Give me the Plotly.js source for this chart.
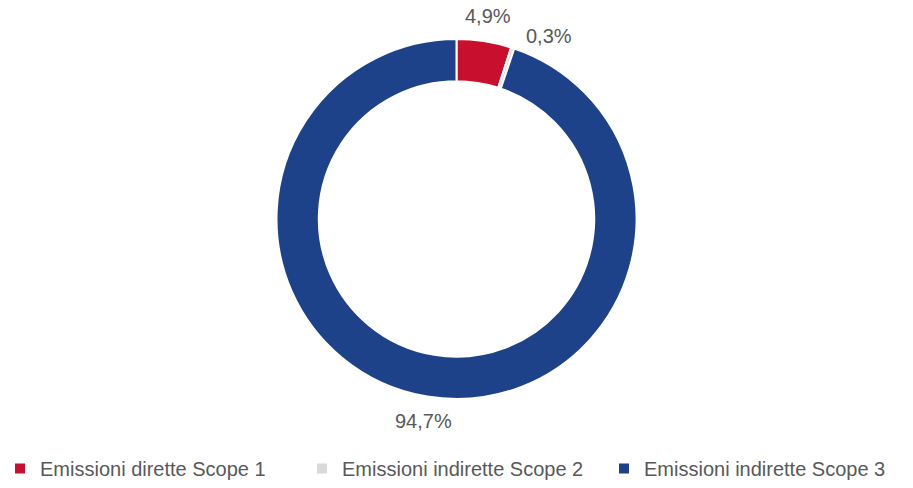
<!DOCTYPE html>
<html>
<head>
<meta charset="utf-8">
<script src="https://cdn.plot.ly/plotly-3.0.1.min.js"></script>
<style>html,body{margin:0;padding:0;background:#fff;}#chart{width:913px;height:488px;}</style>
</head>
<body>
<div id="chart"></div>
<script>
const categories = ["Emissioni dirette Scope 1", "Emissioni indirette Scope 2", "Emissioni indirette Scope 3"];
const shares = [4.9, 0.3, 94.7];
const sliceColors = ["#C8102E", "#D9D9D9", "#1D428A"];

const W = 913, H = 488;
const M = {l: 0, r: 0, t: 39, b: 0};
const FONT = "Liberation Sans, Arial, sans-serif";
const TEXT_COLOR = "#595959";
const LABEL_SIZE = 20;

// plot area & pie placement
const plotW = W - M.l - M.r, plotH = H - M.t - M.b;
const pieDiam = 360;
const pieDomainY = [(plotH - pieDiam) / plotH, 1];
const cx = M.l + plotW / 2, cy = M.t + pieDiam / 2;

// Outside-end data labels, placed from the slice mid-angles with a simple overlap push
const labelR = 205, gap = 10;
const total = shares.reduce((a, b) => a + b, 0);
const fmt = v => v.toFixed(1).replace(".", ",") + "%";
const annotations = [];
const placed = [];
let cum = 0;
shares.forEach((v, i) => {
  let ang = (cum + v / 2) / total * 2 * Math.PI;
  cum += v;
  const txt = fmt(v);
  const bw = txt.length * LABEL_SIZE * 0.55 + 6, bh = LABEL_SIZE + 4;
  let px, py, guard = 0;
  const hits = () => placed.some(p => Math.abs(p.x - px) < (p.w + bw) / 2 + gap && Math.abs(p.y - py) < (p.h + bh) / 2);
  do {
    px = cx + labelR * Math.sin(ang);
    py = cy - labelR * Math.cos(ang);
    if (!hits()) break;
    ang += 0.01;
  } while (++guard < 500);
  placed.push({x: px, y: py, w: bw, h: bh});
  annotations.push({
    xref: "paper", yref: "paper",
    x: (px - M.l) / plotW, y: (M.t + plotH - py) / plotH,
    xanchor: "center", yanchor: "middle",
    text: txt, showarrow: false,
    font: {family: FONT, size: LABEL_SIZE, color: TEXT_COLOR}
  });
});

const trace = {
  type: "pie",
  labels: categories,
  values: shares,
  hole: 0.765,
  sort: false,
  direction: "clockwise",
  rotation: 0,
  marker: {colors: sliceColors, line: {color: "#FFFFFF", width: 2}},
  textinfo: "none",
  hoverinfo: "label+value",
  domain: {x: [0, 1], y: pieDomainY}
};

const layout = {
  width: W,
  height: H,
  margin: M,
  separators: ",.",
  paper_bgcolor: "#FFFFFF",
  showlegend: true,
  annotations: annotations,
  legend: {
    orientation: "h",
    x: 0, xanchor: "left",
    y: 0, yanchor: "bottom",
    entrywidth: 257, entrywidthmode: "pixels",
    font: {family: FONT, size: 20, color: TEXT_COLOR},
    traceorder: "normal"
  }
};

Plotly.newPlot("chart", [trace], layout, {displayModeBar: false, staticPlot: true});
</script>
</body>
</html>
